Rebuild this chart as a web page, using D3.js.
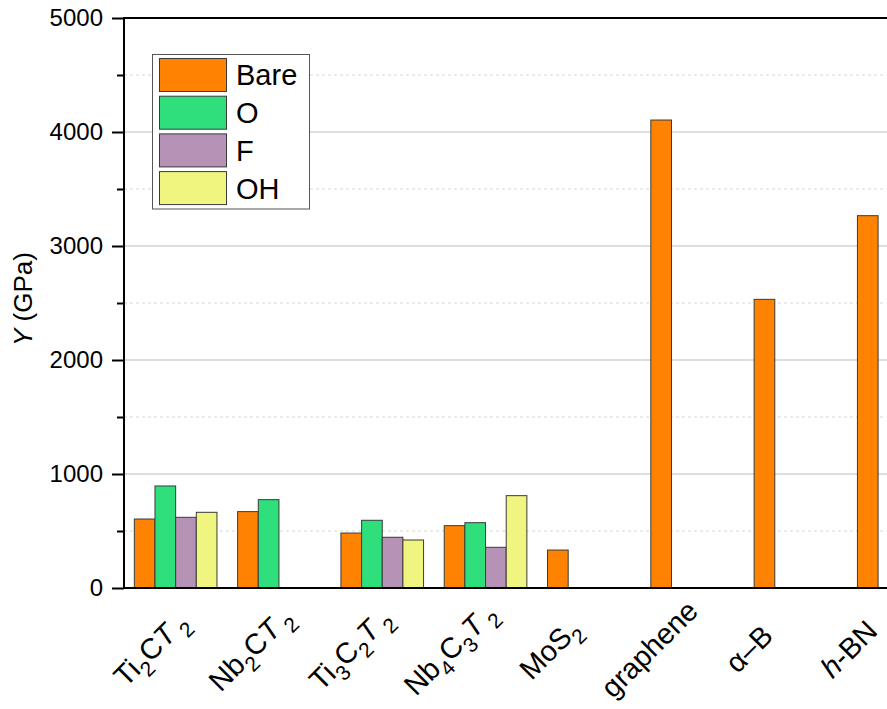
<!DOCTYPE html>
<html>
<head>
<meta charset="utf-8">
<script src="https://cdn.jsdelivr.net/npm/d3@7"></script>
<style>
  html, body { margin: 0; padding: 0; background: #fff; }
  svg { display: block; font-family: Arial, "Liberation Sans", sans-serif; }
</style>
</head>
<body>
<svg id="chart" width="887" height="709"></svg>
<script>
// ---------------- data ----------------
const categories = ["Ti2CT2", "Nb2CT2", "Ti3C2T2", "Nb4C3T2", "MoS2", "graphene", "α–B", "h-BN"];
// rich-text pieces for each category label: [text, style]
const categoryLabels = [
  [["Ti", ""], ["2", "sub"], ["C", ""], ["T", "it"], ["2", "sub"]],
  [["Nb", ""], ["2", "sub"], ["C", ""], ["T", "it"], ["2", "sub"]],
  [["Ti", ""], ["3", "sub"], ["C", ""], ["2", "sub"], ["T", "it"], ["2", "sub"]],
  [["Nb", ""], ["4", "sub"], ["C", ""], ["3", "sub"], ["T", "it"], ["2", "sub"]],
  [["MoS", ""], ["2", "sub"]],
  [["graphene", ""]],
  [["α–B", ""]],
  [["h", "it"], ["-BN", ""]]
];
const seriesNames = ["Bare", "O", "F", "OH"];
const bareValues = [605, 670, 482, 547, 333, 4105, 2532, 3266];
const oValues    = [895, 775, 594, 573, null, null, null, null];
const fValues    = [620, null, 445, 357, null, null, null, null];
const ohValues   = [664, null, 421, 810, null, null, null, null];
const seriesColors = ["#FF8300", "#2EDF7C", "#B592B6", "#EFF57F"];
const yMajorTicks = [0, 1000, 2000, 3000, 4000, 5000];
const yMinorTicks = [500, 1500, 2500, 3500, 4500];
const yTitleItalic = "Y";
const yTitleRest = " (GPa)";

// ---------------- layout ----------------
const W = 887, H = 709;
const plotLeft = 124, plotTop = 18, plotBottom = 588;
const svg = d3.select("#chart");

const x = d3.scaleBand().domain(categories)
  .range([plotLeft, plotLeft + 8 * 103.3]).paddingInner(0.2).paddingOuter(0.1);
const xs = d3.scaleBand().domain(seriesNames).range([0, x.bandwidth()]).padding(0);
const y = d3.scaleLinear().domain([0, 5000]).range([plotBottom, plotTop]);

const allSeries = [bareValues, oValues, fValues, ohValues];

// ---------------- grid ----------------
const grid = svg.append("g");
grid.selectAll("line.minor").data(yMinorTicks).join("line")
  .attr("x1", plotLeft).attr("x2", W)
  .attr("y1", d => y(d)).attr("y2", d => y(d))
  .attr("stroke", "#d6d6d6").attr("stroke-width", 1).attr("stroke-dasharray", "3,3");
grid.selectAll("line.major").data(yMajorTicks.filter(d => d > 0 && d < 5000)).join("line")
  .attr("x1", plotLeft).attr("x2", W)
  .attr("y1", d => y(d)).attr("y2", d => y(d))
  .attr("stroke", "#bdbdbd").attr("stroke-width", 1.2);

// ---------------- bars ----------------
const barData = [];
categories.forEach((c, i) => {
  seriesNames.forEach((s, j) => {
    const v = allSeries[j][i];
    if (v != null) barData.push({ c, s, v, j });
  });
});
svg.append("g").selectAll("rect").data(barData).join("rect")
  .attr("x", d => x(d.c) + xs(d.s))
  .attr("y", d => y(d.v))
  .attr("width", xs.bandwidth())
  .attr("height", d => y(0) - y(d.v))
  .attr("fill", d => seriesColors[d.j])
  .attr("stroke", "#3a3a3a").attr("stroke-width", 1);

// ---------------- axes ----------------
const yAxis = d3.axisLeft(y).tickValues(yMajorTicks).tickFormat(d3.format("d"))
  .tickSize(12).tickPadding(9);
const gy = svg.append("g").attr("transform", `translate(${plotLeft},0)`).call(yAxis);
gy.attr("font-size", 24).attr("font-family", "Arial, 'Liberation Sans', sans-serif");
gy.select(".domain").remove();
gy.selectAll(".tick line").attr("stroke", "#000").attr("stroke-width", 2);
gy.selectAll(".tick text").attr("fill", "#000");
const gyMinor = svg.append("g").attr("transform", `translate(${plotLeft},0)`)
  .call(d3.axisLeft(y).tickValues(yMinorTicks).tickSize(7).tickFormat(""));
gyMinor.select(".domain").remove();
gyMinor.selectAll(".tick line").attr("stroke", "#000").attr("stroke-width", 2);

// frame lines
svg.append("line").attr("x1", plotLeft).attr("x2", plotLeft).attr("y1", plotTop - 1).attr("y2", plotBottom + 1)
  .attr("stroke", "#000").attr("stroke-width", 2);
svg.append("line").attr("x1", plotLeft).attr("x2", W).attr("y1", plotBottom).attr("y2", plotBottom)
  .attr("stroke", "#000").attr("stroke-width", 2);
svg.append("line").attr("x1", plotLeft).attr("x2", W).attr("y1", plotTop).attr("y2", plotTop)
  .attr("stroke", "#000").attr("stroke-width", 2);

// x labels (rotated rich text)
const lab = d3.scalePoint().domain(categories)
  .range([x(categories[0]) + x.bandwidth() / 2 - 25, x(categories[7]) + x.bandwidth() / 2 - 50]);
categories.forEach((c, i) => {
  const g = svg.append("g").attr("transform", `translate(${lab(c)},649) rotate(-45)`);
  const t = g.append("text").attr("text-anchor", "middle").attr("y", 10)
    .attr("font-size", 29).attr("fill", "#000");
  let shifted = false;
  categoryLabels[i].forEach(([txt, st], k) => {
    const ts = t.append("tspan").text(txt);
    if (st === "sub") {
      ts.attr("font-size", 21).attr("dy", shifted ? 0 : 9);
      const prev = categoryLabels[i][k - 1];
      if (prev && prev[1] === "it") ts.attr("dx", 5);
      shifted = true;
    } else {
      if (shifted) { ts.attr("dy", -9); shifted = false; }
      if (st === "it") ts.attr("font-style", "italic");
    }
  });
});

// y title
const yt = svg.append("text")
  .attr("transform", `translate(32,${(plotTop + plotBottom) / 2 - 4}) rotate(-90)`)
  .attr("text-anchor", "middle").attr("font-size", 26).attr("fill", "#000");
yt.append("tspan").attr("font-style", "italic").text(yTitleItalic);
yt.append("tspan").text(yTitleRest);

// ---------------- legend ----------------
const lg = svg.append("g");
lg.append("rect").attr("x", 152.5).attr("y", 54.5).attr("width", 157).attr("height", 154.5)
  .attr("fill", "#fff").attr("stroke", "#555").attr("stroke-width", 1);
seriesNames.forEach((s, j) => {
  const yy = 58.5 + j * 37.7;
  lg.append("rect").attr("x", 159.5).attr("y", yy).attr("width", 67).attr("height", 33)
    .attr("fill", seriesColors[j]).attr("stroke", "#3a3a3a").attr("stroke-width", 1);
  lg.append("text").attr("x", 236).attr("y", yy + 16.5).attr("dy", "0.36em")
    .attr("font-size", 29).attr("fill", "#000").text(s);
});
</script>
</body>
</html>
